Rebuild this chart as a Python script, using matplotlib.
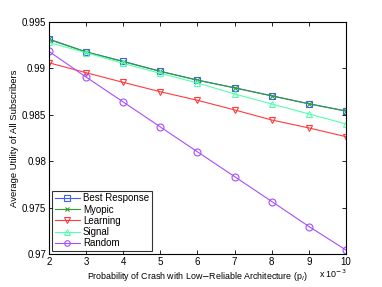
import matplotlib
matplotlib.use("Agg")
import matplotlib.pyplot as plt

x = [2, 3, 4, 5, 6, 7, 8, 9, 10]
best_response = [0.99314, 0.99177, 0.99074, 0.98967, 0.98873, 0.98790, 0.98704, 0.98618, 0.98540]
myopic = [0.99310, 0.99175, 0.99072, 0.98966, 0.98871, 0.98788, 0.98702, 0.98616, 0.98538]
learning = [0.99059, 0.98952, 0.98848, 0.98747, 0.98655, 0.98551, 0.98443, 0.98357, 0.98263]
signal = [0.99278, 0.99167, 0.99053, 0.98945, 0.98841, 0.98723, 0.98615, 0.98508, 0.98400]
random_ = [0.99182, 0.98905, 0.98637, 0.98368, 0.98100, 0.97833, 0.97565, 0.97296, 0.97042]

series = [
    ("Best Response", best_response, "s", "#3f5fff"),
    ("Myopic", myopic, "x", "#2ea02e"),
    ("Learning", learning, "v", "#ff3b3b"),
    ("Signal", signal, "^", "#55ffb0"),
    ("Random", random_, "o", "#a64dff"),
]

plt.rcParams['font.family'] = ['Liberation Sans', 'DejaVu Sans']
fig = plt.figure(figsize=(3.82, 2.87), dpi=100)
ax = fig.add_axes([0.128, 0.115, 0.778, 0.809])

for name, vals, m, c in series:
    ax.plot(x, vals, marker=m, color=c, lw=0.8, markersize=5 if m != "x" else 4,
            markerfacecolor='none', markeredgewidth=0.8, label=name)

ax.set_xlim(2, 10)
ax.set_ylim(0.97, 0.995)
ax.set_xticks(x)
ax.set_yticks([0.97, 0.975, 0.98, 0.985, 0.99, 0.995])
ax.set_yticklabels(['0.97', '0.975', '0.98', '0.985', '0.99', '0.995'])
ax.tick_params(labelsize=7, direction='in', length=3, width=0.6, top=True, right=True, pad=2)
for s in ax.spines.values():
    s.set_linewidth(0.8)
ax.set_xlabel(r'Probability of Crash with Low$-$Reliable Architecture (p$_l$)', fontsize=6.4, labelpad=2)
ax.set_ylabel('Average Utility of All Subscribers', fontsize=6.8, labelpad=2)
ax.text(1.0, -0.103, r'x 10$^{-3}$', transform=ax.transAxes, fontsize=6.4, ha='right', va='baseline')

leg = ax.legend(loc='lower left', fontsize=7, frameon=True, fancybox=False,
                edgecolor='black', borderpad=0.3, labelspacing=0.12, handlelength=2.6,
                handletextpad=0.3, borderaxespad=0.3, markerscale=0.8)
leg.get_frame().set_linewidth(0.8)

fig.savefig('out.png', dpi=100)
